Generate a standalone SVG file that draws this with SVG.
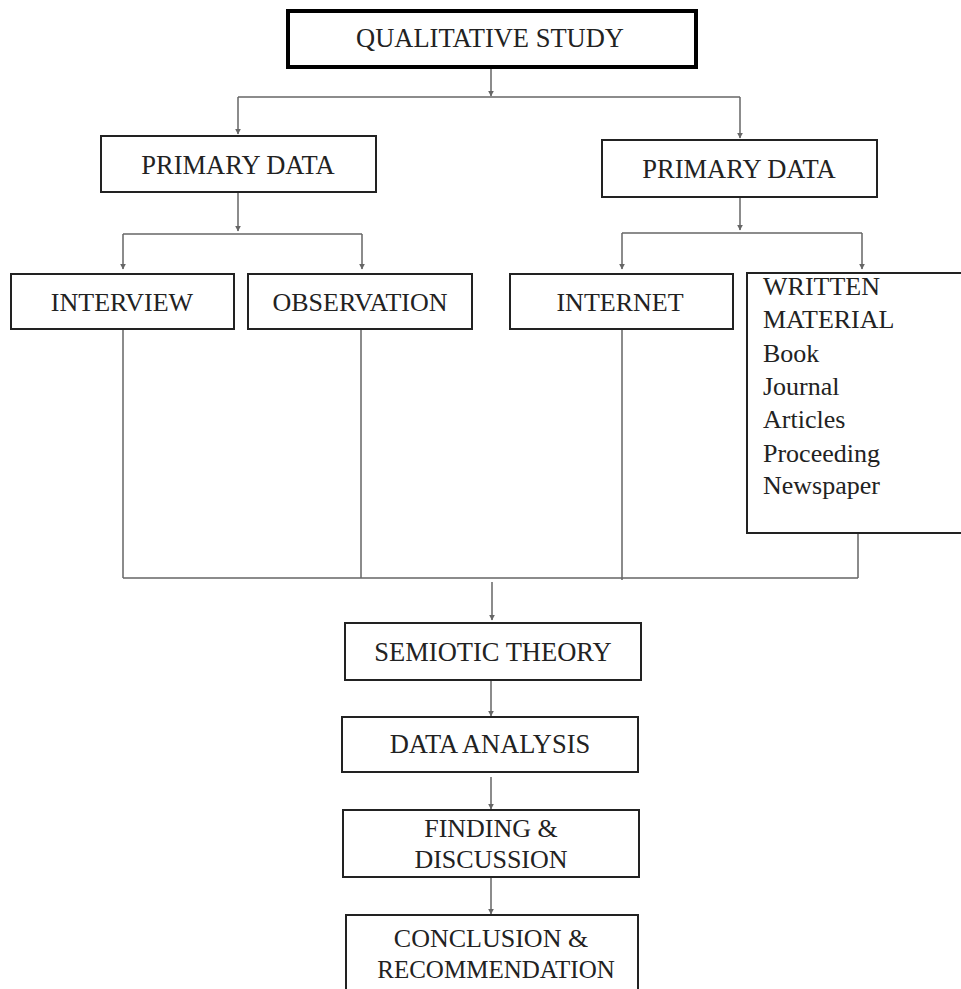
<svg xmlns="http://www.w3.org/2000/svg" width="961" height="989" viewBox="0 0 961 989">
<defs>
<style>
.box{fill:#fff;stroke:#222;stroke-width:2}
.top{fill:#fff;stroke:#000;stroke-width:4}
.t{font-family:'Liberation Serif','DejaVu Serif',serif;font-size:26px;fill:#222;text-anchor:middle}
.tl{font-family:'Liberation Serif','DejaVu Serif',serif;font-size:26px;fill:#222}
.c{fill:none;stroke:#666;stroke-width:1.5}
</style>
<marker id="ah" viewBox="0 0 10 10" refX="9" refY="5" markerWidth="6" markerHeight="6" markerUnits="userSpaceOnUse" orient="auto">
<path d="M0,0 L10,5 L0,10 z" fill="#666"/>
</marker>
</defs>
<rect width="961" height="989" fill="#fff"/>
<g id="connectors">
<path class="c" d="M491,68 V96" marker-end="url(#ah)"/>
<path class="c" d="M238,97 H740"/>
<path class="c" d="M238,97 V134" marker-end="url(#ah)"/>
<path class="c" d="M740,97 V138" marker-end="url(#ah)"/>
<path class="c" d="M238,193 V231" marker-end="url(#ah)"/>
<path class="c" d="M123,234 H362"/>
<path class="c" d="M123,234 V269" marker-end="url(#ah)"/>
<path class="c" d="M362,234 V269" marker-end="url(#ah)"/>
<path class="c" d="M740,198 V230" marker-end="url(#ah)"/>
<path class="c" d="M622,233 H862"/>
<path class="c" d="M622,233 V269" marker-end="url(#ah)"/>
<path class="c" d="M862,233 V269" marker-end="url(#ah)"/>
<path class="c" d="M123,330 V578 M361,330 V578 M622,330 V580 M858,534 V578 M123,578 H858"/>
<path class="c" d="M492,582 V620" marker-end="url(#ah)"/>
<path class="c" d="M491,681 V716" marker-end="url(#ah)"/>
<path class="c" d="M491,777 V809" marker-end="url(#ah)"/>
<path class="c" d="M491,878 V914" marker-end="url(#ah)"/>
</g>
<g id="qualitative-study">
<rect class="top" x="288" y="11" width="408" height="56"/>
<text class="t" x="490" y="47" style="font-size:26.5px">QUALITATIVE STUDY</text>
</g>
<g id="primary-data-left">
<rect class="box" x="101" y="136" width="275" height="56"/>
<text class="t" x="238" y="174" style="font-size:26.5px">PRIMARY DATA</text>
</g>
<g id="primary-data-right">
<rect class="box" x="602" y="140" width="275" height="57"/>
<text class="t" x="739" y="178" style="font-size:26.5px">PRIMARY DATA</text>
</g>
<g id="interview">
<rect class="box" x="11" y="274" width="223" height="55"/>
<text class="t" x="122" y="311">INTERVIEW</text>
</g>
<g id="observation">
<rect class="box" x="248" y="274" width="224" height="55"/>
<text class="t" x="360" y="311">OBSERVATION</text>
</g>
<g id="internet">
<rect class="box" x="510" y="274" width="223" height="55"/>
<text class="t" x="620" y="311">INTERNET</text>
</g>
<g id="written-material">
<rect class="box" x="747" y="273" width="230" height="260"/>
<text class="tl" x="763" y="295">WRITTEN</text>
<text class="tl" x="763" y="328">MATERIAL</text>
<text class="tl" x="763" y="362">Book</text>
<text class="tl" x="763" y="395">Journal</text>
<text class="tl" x="763" y="428">Articles</text>
<text class="tl" x="763" y="462">Proceeding</text>
<text class="tl" x="763" y="494">Newspaper</text>
</g>
<g id="semiotic-theory">
<rect class="box" x="345" y="623" width="296" height="57"/>
<text class="t" x="493" y="661" style="font-size:26.5px">SEMIOTIC THEORY</text>
</g>
<g id="data-analysis">
<rect class="box" x="342" y="717" width="296" height="55"/>
<text class="t" x="490" y="753" style="font-size:26.5px">DATA ANALYSIS</text>
</g>
<g id="finding-discussion">
<rect class="box" x="343" y="810" width="296" height="67"/>
<text class="t" x="491" y="837">FINDING &amp;</text>
<text class="t" x="491" y="868">DISCUSSION</text>
</g>
<g id="conclusion-recommendation">
<rect class="box" x="346" y="915" width="292" height="90"/>
<text class="t" x="491" y="947">CONCLUSION &amp;</text>
<text class="t" x="496" y="978" style="font-size:25px">RECOMMENDATION</text>
</g>
</svg>
